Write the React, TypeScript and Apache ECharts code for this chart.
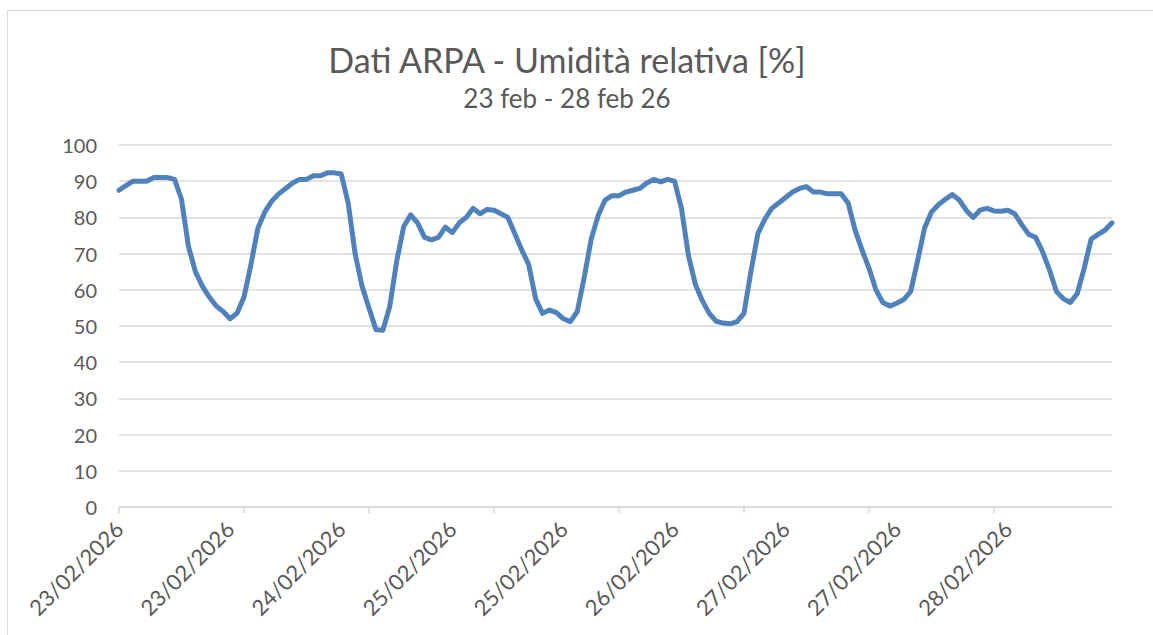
import React, { useEffect, useRef } from "react";
import * as echarts from "echarts";

const titleText = "Dati ARPA - Umidità relativa [%]";
const subtitleText = "23 feb - 28 feb 26";

const days = ["23/02/2026", "24/02/2026", "25/02/2026", "26/02/2026", "27/02/2026", "28/02/2026"];
const hours = [
  "00:00", "01:00", "02:00", "03:00", "04:00", "05:00", "06:00", "07:00",
  "08:00", "09:00", "10:00", "11:00", "12:00", "13:00", "14:00", "15:00",
  "16:00", "17:00", "18:00", "19:00", "20:00", "21:00", "22:00", "23:00",
];

const day1 = [87.5, 88.8, 90, 90, 90, 91, 91, 91, 90.5, 85, 72, 65, 61, 58, 55.5, 54, 52, 53.5, 58, 67, 77, 81.5, 84.5, 86.5];
const day2 = [88, 89.5, 90.5, 90.5, 91.5, 91.5, 92.3, 92.3, 92, 84, 70, 61, 55, 49, 48.8, 55.5, 68, 77.5, 80.7, 78.5, 74.5, 73.8, 74.5, 77.3];
const day3 = [75.8, 78.5, 80, 82.5, 81, 82.2, 82, 81, 80, 75.5, 71, 67, 57.5, 53.5, 54.4, 53.7, 52, 51.2, 54, 63.5, 74, 80.5, 84.8, 86];
const day4 = [86, 87, 87.5, 88, 89.5, 90.5, 89.8, 90.5, 90, 82.5, 69.5, 61.5, 57, 53.5, 51.3, 50.8, 50.6, 51.2, 53.5, 65, 75.5, 79.5, 82.5, 84];
const day5 = [85.5, 87, 88, 88.5, 87, 87, 86.5, 86.5, 86.5, 84, 76.5, 71, 66, 60, 56.5, 55.5, 56.3, 57.3, 59.5, 68, 77, 81.5, 83.5, 85];
const day6 = [86.3, 84.8, 82, 80, 82, 82.5, 81.8, 81.7, 82, 81, 78, 75.3, 74.5, 70.5, 65.5, 59.5, 57.5, 56.5, 59, 66, 74, 75.3, 76.5, 78.5];

const humidity = [...day1, ...day2, ...day3, ...day4, ...day5, ...day6];
const categories: string[] = [];
days.forEach((d) => hours.forEach((h) => categories.push(d + " " + h)));

const yTicks = { min: 0, max: 100, interval: 10 };

const FONT = "Lato, 'Open Sans', sans-serif";
const TEXT = "#595959";
const GRID = "#D9D9D9";

export default function App() {
  const ref = useRef<HTMLDivElement>(null);
  useEffect(() => {
    if (!ref.current) return;
    const chart = echarts.init(ref.current, undefined, { renderer: "svg" });
    chart.setOption({
      animation: false,
      backgroundColor: "#FFFFFF",
      grid: { left: 119, right: 41, top: 145, bottom: 128, containLabel: false },
      graphic: [
        {
          type: "rect",
          shape: { x: 7.5, y: 10.5, width: 1300, height: 800 },
          style: { fill: "none", stroke: GRID, lineWidth: 1 },
          silent: true,
        },
        {
          type: "text",
          style: {
            text: titleText, x: 567, y: 59, textAlign: "center", textVerticalAlign: "middle",
            font: "34px " + FONT, fill: TEXT,
          },
        },
        {
          type: "text",
          style: {
            text: subtitleText, x: 567, y: 98, textAlign: "center", textVerticalAlign: "middle",
            font: "26px " + FONT, fill: TEXT,
          },
        },
      ],
      xAxis: {
        type: "category",
        data: categories,
        boundaryGap: false,
        axisLine: { show: true, lineStyle: { color: GRID, width: 1.5 } },
        axisTick: { show: true, interval: 17, length: 6, lineStyle: { color: GRID, width: 1.5 } },
        axisLabel: {
          interval: 15,
          rotate: 45,
          margin: 18,
          color: TEXT,
          fontFamily: FONT,
          fontSize: 22,
          formatter: (v: string) => v.split(" ")[0],
        },
        splitLine: { show: false },
      },
      yAxis: {
        type: "value",
        min: yTicks.min,
        max: yTicks.max,
        interval: yTicks.interval,
        axisLine: { show: false },
        axisTick: { show: false },
        axisLabel: { color: TEXT, fontFamily: FONT, fontSize: 20, margin: 22 },
        splitLine: { lineStyle: { color: GRID, width: 1.5 } },
      },
      series: [
        {
          type: "line",
          data: humidity,
          showSymbol: false,
          symbol: "none",
          smooth: false,
          lineStyle: { color: "#4F81BD", width: 5, join: "round", cap: "round" },
        },
      ],
    });
    return () => chart.dispose();
  }, []);
  return (
    <div
      ref={ref}
      style={{ position: "fixed", left: 0, top: 0, width: 1153, height: 635, background: "#fff" }}
    />
  );
}
